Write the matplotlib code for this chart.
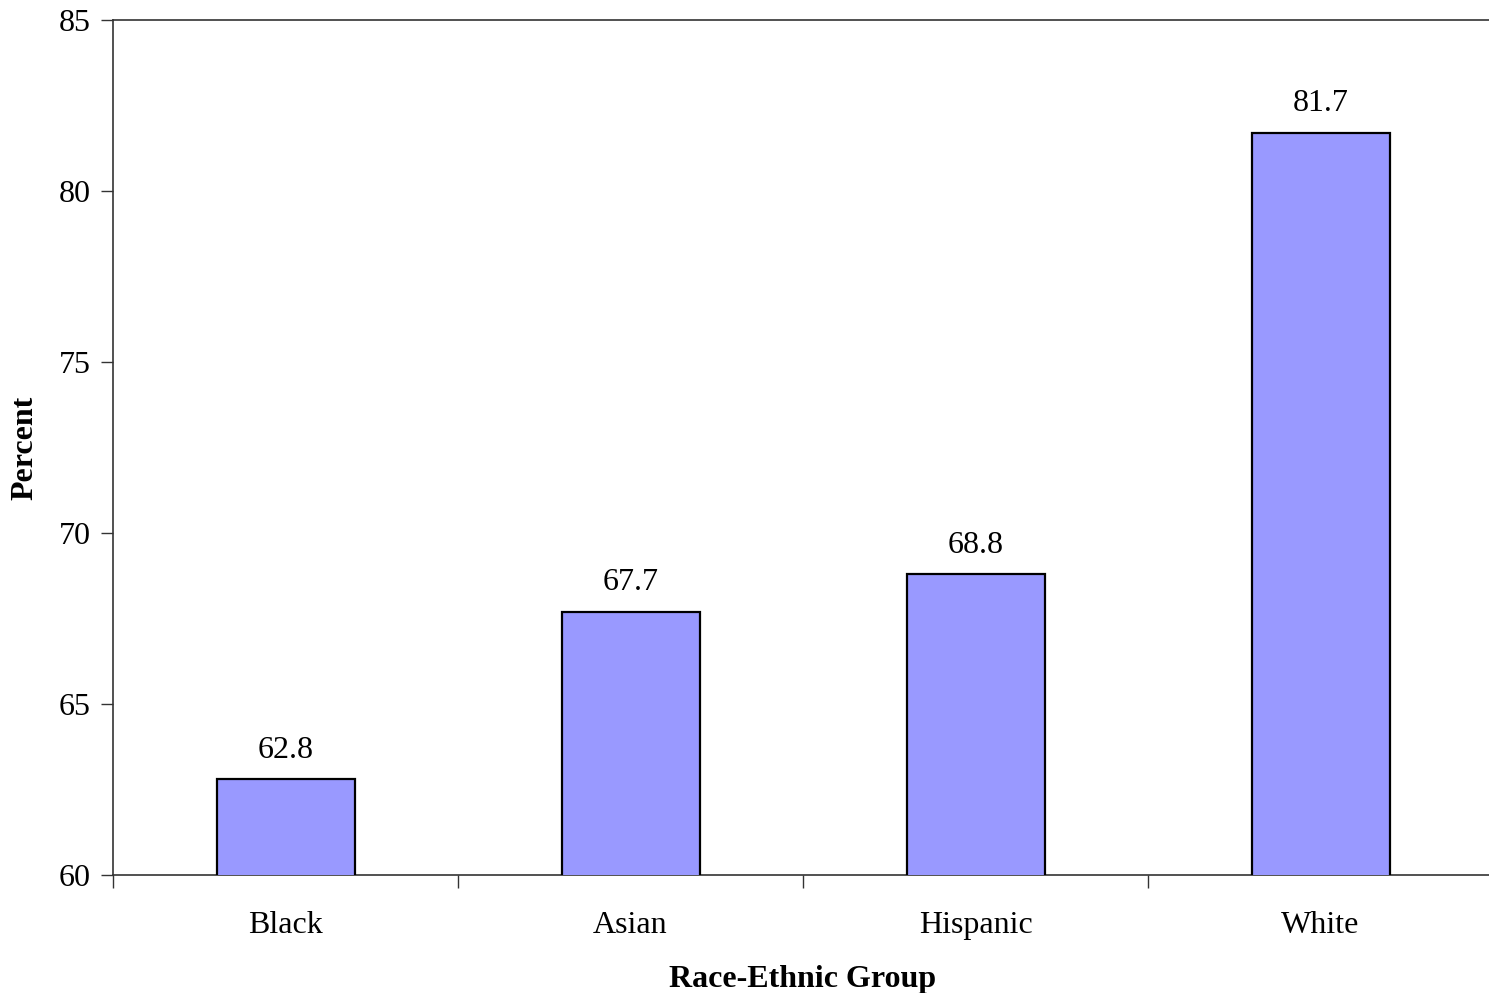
import numpy as np
import matplotlib
matplotlib.use('Agg')
import matplotlib.pyplot as plt

# Данные графика
groups = ['Black', 'Asian', 'Hispanic', 'White']
percent = [62.8, 67.7, 68.8, 81.7]
y_ticks = [60, 65, 70, 75, 80, 85]

plt.rcParams['font.family'] = ['Liberation Serif', 'DejaVu Serif']

W, H = 1489, 993
fig = plt.figure(figsize=(W / 100, H / 100), dpi=100)
ax = fig.add_axes([113 / W, 1 - 875 / H, 1380 / W, 855 / H])

x = np.arange(len(groups))
bars = ax.bar(x, percent, width=0.4, color='#9999FF', edgecolor='black', linewidth=1.6, zorder=3)

# Подписи значений над столбиками
for xi, val in zip(x, percent):
    ax.text(xi, val + 0.42, f'{val:.1f}', ha='center', va='bottom', fontsize=23)

ax.set_xlim(-0.5, len(groups) - 0.5)
ax.set_ylim(60, 85)
ax.set_yticks(y_ticks)
ax.tick_params(axis='y', labelsize=23, length=9, width=1, direction='out', color='#333333', pad=7)

ax.set_xticks(x)
ax.set_xticklabels(groups, fontsize=23)
ax.tick_params(axis='x', which='major', length=0, pad=26)
ax.set_xticks(np.arange(-0.5, len(groups) - 0.5, 1.0), minor=True)
ax.tick_params(axis='x', which='minor', length=9, width=1, direction='out', color='#333333')

ax.spines['right'].set_visible(False)
for s in ['top', 'left', 'bottom']:
    ax.spines[s].set_color('#333333')
    ax.spines[s].set_linewidth(1.2)

# Подписи осей: ставим по пикселям эталона
ax.set_ylabel('Percent', fontsize=23, fontweight='bold', va='center')
ax.yaxis.set_label_coords((25 - 113) / 1380, (875 - 448) / 855)
ax.set_xlabel('Race-Ethnic Group', fontsize=23, fontweight='bold', va='center')
ax.xaxis.set_label_coords((803 - 113) / 1380, (875 - 979) / 855)

fig.savefig('out.png', dpi=100)
